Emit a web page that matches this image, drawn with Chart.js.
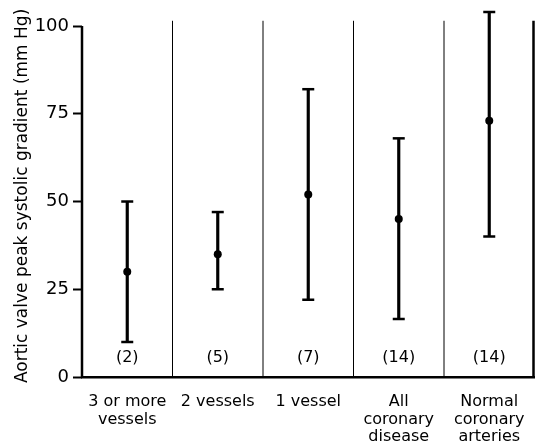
<!DOCTYPE html>
<html>
<head>
<meta charset="utf-8">
<script src="https://cdn.jsdelivr.net/npm/chart.js@4"></script>
<style>
  body { margin: 0; background: #fff; }
  #wrap { width: 543px; height: 441px; }
</style>
</head>
<body>
<div id="wrap"><canvas id="myCanvas" width="543" height="441"></canvas></div>
<script>
const categories = [['3 or more', 'vessels'], ['2 vessels'], ['1 vessel'], ['All', 'coronary', 'disease'], ['Normal', 'coronary', 'arteries']]
const means = [30, 35, 52, 45, 73]
const upper = [50, 47, 82, 68, 104]
const lower = [10, 25, 22, 16.5, 40]
const counts = ['(2)', '(5)', '(7)', '(14)', '(14)']
const yTicks = [0, 25, 50, 75, 100]

const FONT = 'DejaVu Sans'

// frame: left axis up to 100, separators between groups, group sizes
const framePlugin = {
  id: 'frame',
  afterDatasetsDraw(chart) {
    const ctx = chart.ctx
    const x = chart.scales.x
    const y = chart.scales.y
    const area = chart.chartArea
    ctx.save()
    ctx.strokeStyle = '#000'
    // left axis
    ctx.lineWidth = 2.5
    ctx.beginPath()
    ctx.moveTo(area.left, y.getPixelForValue(0))
    ctx.lineTo(area.left, y.getPixelForValue(100))
    ctx.stroke()
    // separators
    for (let i = 0; i < categories.length; i++) {
      const xp = i < categories.length - 1
        ? (x.getPixelForValue(i) + x.getPixelForValue(i + 1)) / 2
        : area.right - 1
      ctx.lineWidth = i < categories.length - 1 ? 1 : 2.5
      ctx.beginPath()
      ctx.moveTo(xp, y.getPixelForValue(0))
      ctx.lineTo(xp, y.getPixelForValue(101.5))
      ctx.stroke()
    }
    // counts
    ctx.fillStyle = '#000'
    ctx.font = '16px "' + FONT + '"'
    ctx.textAlign = 'center'
    ctx.textBaseline = 'middle'
    counts.forEach((c, i) => {
      ctx.fillText(c, x.getPixelForValue(i), y.getPixelForValue(5.5))
    })
    ctx.restore()
  }
}

const context = document.getElementById('myCanvas').getContext('2d')

new Chart(context, {
  data: {
    labels: categories,
    datasets: [
      {
        type: 'bar',
        data: lower.map((l, i) => [l, upper[i]]),
        backgroundColor: '#000',
        barThickness: 2.5,
        clip: false,
        order: 3
      },
      {
        type: 'line',
        data: upper,
        showLine: false,
        pointStyle: 'line',
        pointRadius: 6,
        borderColor: '#000',
        borderWidth: 2.5,
        clip: false,
        order: 2
      },
      {
        type: 'line',
        data: lower,
        showLine: false,
        pointStyle: 'line',
        pointRadius: 6,
        borderColor: '#000',
        borderWidth: 2.5,
        order: 2
      },
      {
        type: 'line',
        data: means,
        showLine: false,
        pointStyle: 'circle',
        pointRadius: 4,
        backgroundColor: '#000',
        borderColor: '#000',
        borderWidth: 0,
        order: 1
      }
    ]
  },
  options: {
    responsive: false,
    animation: false,
    layout: { padding: { top: 0, right: 4, left: 0, bottom: 0 } },
    plugins: {
      legend: { display: false },
      tooltip: { enabled: false }
    },
    scales: {
      x: {
        grid: { display: false },
        border: { display: true, color: '#000', width: 2.5 },
        ticks: {
          color: '#000',
          padding: 8,
          maxRotation: 0,
          font: { family: FONT, size: 16, lineHeight: 1.1 }
        },
        afterFit: (scale) => { scale.height = 64 }
      },
      y: {
        min: 0,
        max: 103.2,
        afterBuildTicks: (scale) => { scale.ticks = yTicks.map(v => ({ value: v })) },
        grid: {
          drawOnChartArea: false,
          drawTicks: true,
          tickLength: 9,
          tickWidth: 2,
          tickColor: '#000'
        },
        border: { display: false },
        ticks: {
          color: '#000',
          padding: 4,
          font: { family: FONT, size: 18 }
        },
        title: {
          display: true,
          text: 'Aortic valve peak systolic gradient (mm Hg)',
          color: '#000',
          padding: { top: 12, bottom: 0 },
          font: { family: FONT, size: 17 }
        },
        afterFit: (scale) => { scale.width = 82 }
      }
    }
  },
  plugins: [framePlugin]
})
</script>
</body>
</html>
